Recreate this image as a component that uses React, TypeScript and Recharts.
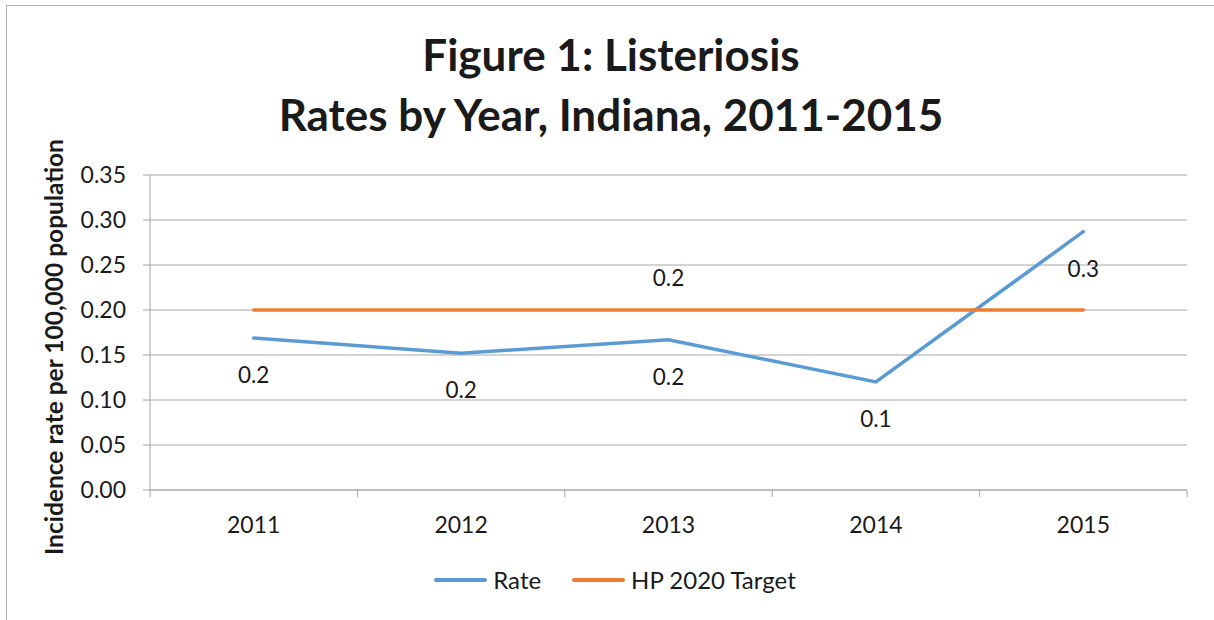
import { LineChart, Line, XAxis, YAxis, CartesianGrid, Legend, LabelList } from 'recharts';

// values
const years = ['2011', '2012', '2013', '2014', '2015'];
const rate = [0.169, 0.152, 0.167, 0.12, 0.287];
const target = [0.2, 0.2, 0.2, 0.2, 0.2];
const targetLabelShown = [false, false, true, false, false];
const yTicks = [0, 0.05, 0.1, 0.15, 0.2, 0.25, 0.3, 0.35];
const seriesNames = ['Rate', 'HP 2020 Target'];

const data = years.map((year, i) => ({
  year,
  rate: rate[i],
  target: target[i],
  targetLabel: targetLabelShown[i] ? target[i] : null,
}));

const FONT = 'Lato, "Open Sans", sans-serif';
const GRID = '#a6a6a6';
const TEXT = '#1a1a1a';
const BLUE = '#5b9bd5';
const ORANGE = '#ed7d31';

// year label in the band centre, tick marks on the band edges (Excel style)
function YearTick(props: any) {
  const { x, y, payload, index, visibleTicksCount, width } = props;
  const band = width / visibleTicksCount;
  const left = x - band / 2;
  const right = x + band / 2;
  return (
    <g>
      <line x1={left} y1={y} x2={left} y2={y + 7} stroke={GRID} />
      {index === visibleTicksCount - 1 && <line x1={right} y1={y} x2={right} y2={y + 7} stroke={GRID} />}
      <text x={x} y={y + 43} textAnchor="middle" fill={TEXT} fontSize={23} fontFamily={FONT}>
        {payload.value}
      </text>
    </g>
  );
}

function LegendContent(props: any) {
  // keep series order (recharts sorts legend items by name otherwise)
  const payload = [...(props.payload || [])].sort(
    (a: any, b: any) => seriesNames.indexOf(a.value) - seriesNames.indexOf(b.value),
  );
  return (
    <div style={{ display: 'flex', justifyContent: 'center', alignItems: 'center', gap: 31, fontFamily: FONT, fontSize: 24, color: TEXT, paddingLeft: 16 }}>
      {payload.map((entry: any) => (
        <div key={entry.value} style={{ display: 'flex', alignItems: 'center' }}>
          <span style={{ display: 'inline-block', width: 53, height: 4, borderRadius: 2, background: entry.color, marginRight: 6 }} />
          <span>{entry.value}</span>
        </div>
      ))}
    </div>
  );
}

export default function App() {
  return (
    <div style={{ position: 'absolute', left: 0, top: 0, width: 1214, height: 620, background: '#fff', overflow: 'hidden' }}>
      {/* chart frame */}
      <div style={{ position: 'absolute', left: 6, top: 5, width: 1220, height: 630, border: '1px solid #b3b3b3' }} />

      {/* title */}
      <div style={{ position: 'absolute', left: 0, top: 24, width: 1222, textAlign: 'center', fontFamily: FONT, fontWeight: 700, fontSize: 44, lineHeight: '60px', color: TEXT }}>
        Figure 1: Listeriosis
        <br />
        Rates by Year, Indiana, 2011-2015
      </div>

      {/* y axis title */}
      <div style={{ position: 'absolute', left: 54, top: 347, width: 0, height: 0 }}>
        <div style={{ position: 'absolute', left: -260, top: -16, width: 520, height: 32, lineHeight: '32px', textAlign: 'center', transform: 'rotate(-90deg)', fontFamily: FONT, fontWeight: 700, fontSize: 24.5, color: TEXT, whiteSpace: 'nowrap' }}>
          Incidence rate per 100,000 population
        </div>
      </div>

      <div style={{ position: 'absolute', left: 0, top: 0 }}>
        <LineChart width={1214} height={620} data={data} margin={{ top: 175, right: 27, bottom: 70, left: 70 }}>
          <CartesianGrid vertical={false} stroke={GRID} />
          <XAxis
            dataKey="year"
            scale="band"
            height={60}
            tick={<YearTick />}
            tickLine={false}
            tickSize={0}
            tickMargin={0}
            axisLine={{ stroke: GRID }}
            interval={0}
          />
          <YAxis
            width={80}
            domain={[0, 0.35]}
            ticks={yTicks}
            tickFormatter={(v: number) => v.toFixed(2)}
            tickSize={7}
            tickMargin={17}
            tick={{ fill: TEXT, fontSize: 23, fontFamily: FONT }}
            tickLine={{ stroke: GRID }}
            axisLine={{ stroke: GRID }}
          />
          <Legend
            layout="horizontal"
            verticalAlign="middle"
            align="center"
            content={<LegendContent />}
            wrapperStyle={{ top: 565, left: 0, width: 1214 }}
          />
          <Line
            dataKey="rate"
            name="Rate"
            stroke={BLUE}
            strokeWidth={3.5}
            strokeLinecap="round"
            dot={false}
            isAnimationActive={false}
          >
            <LabelList dataKey="rate" position="bottom" offset={29} formatter={(v: any) => Number(v).toFixed(1)} fill={TEXT} fontSize={22.5} fontFamily={FONT} />
          </Line>
          <Line
            dataKey="target"
            name="HP 2020 Target"
            stroke={ORANGE}
            strokeWidth={3.5}
            strokeLinecap="round"
            dot={false}
            isAnimationActive={false}
          >
            <LabelList dataKey="targetLabel" position="top" offset={24} formatter={(v: any) => (v == null ? '' : Number(v).toFixed(1))} fill={TEXT} fontSize={22.5} fontFamily={FONT} />
          </Line>
        </LineChart>
      </div>
    </div>
  );
}
